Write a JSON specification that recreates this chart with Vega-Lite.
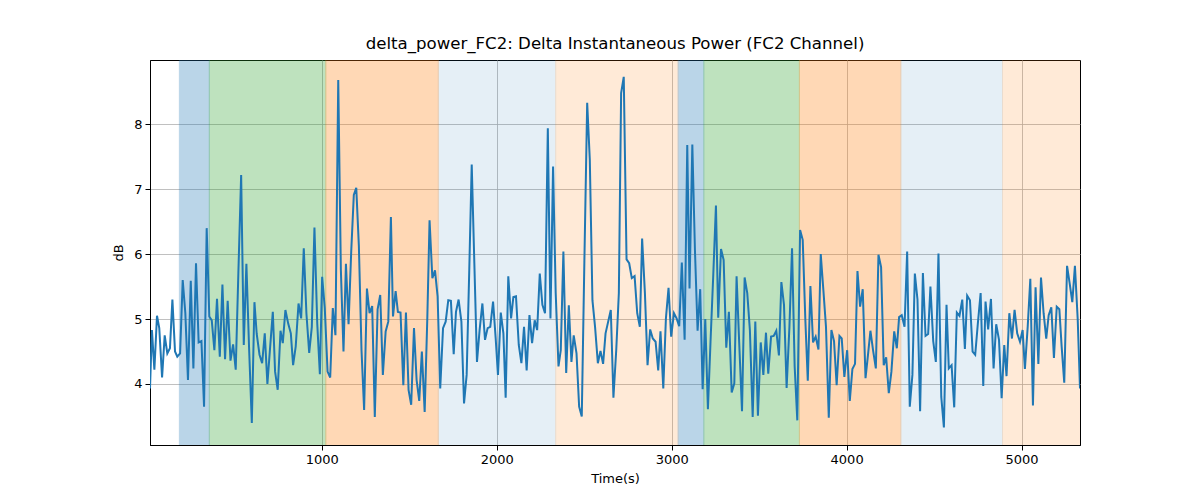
{
"$schema":"https://vega.github.io/schema/vega-lite/v6.json",
"width":930,"height":385,
"autosize":{"type":"none"},
"padding":{"left":150,"top":60,"right":120,"bottom":55},
"background":"white",
"title":{"text":"delta_power_FC2: Delta Instantaneous Power (FC2 Channel)","font":"DejaVu Sans","fontSize":16.6,"fontWeight":"normal","color":"black","offset":7},
"config":{"view":{"stroke":"black","strokeWidth":1},
"axis":{"grid":true,"gridColor":"#b0b0b0","gridWidth":0.8,"domainColor":"black","tickColor":"black","tickSize":5,"labelFont":"DejaVu Sans","labelFontSize":13,"labelColor":"black","titleFont":"DejaVu Sans","titleFontSize":13,"titleFontWeight":"normal","titleColor":"black"}},
"datasets":{
"bands":[
{"start":186,"end":357,"kind":"A"},
{"start":357,"end":1023,"kind":"B"},
{"start":1023,"end":1666,"kind":"C"},
{"start":1666,"end":2337,"kind":"D"},
{"start":2337,"end":3037,"kind":"E"},
{"start":3037,"end":3184,"kind":"A"},
{"start":3184,"end":3730,"kind":"B"},
{"start":3730,"end":4310,"kind":"C"},
{"start":4310,"end":4891,"kind":"D"},
{"start":4891,"end":5334,"kind":"E"}
],
"series":[
{"t":18,"v":3.93},{"t":29,"v":4.83},{"t":43,"v":4.22},{"t":58,"v":5.05},{"t":71,"v":4.86},{"t":87,"v":4.10},{"t":102,"v":4.75},{"t":117,"v":4.47},{"t":132,"v":4.55},{"t":146,"v":5.30},{"t":161,"v":4.50},{"t":174,"v":4.42},{"t":190,"v":4.47},{"t":205,"v":5.60},{"t":220,"v":5.09},{"t":235,"v":4.06},{"t":251,"v":5.59},{"t":266,"v":4.24},{"t":281,"v":5.86},{"t":296,"v":4.64},{"t":312,"v":4.66},{"t":327,"v":3.65},{"t":342,"v":6.40},{"t":357,"v":5.04},{"t":371,"v":4.98},{"t":386,"v":4.52},{"t":401,"v":5.31},{"t":417,"v":4.42},{"t":432,"v":5.53},{"t":447,"v":4.38},{"t":462,"v":5.28},{"t":478,"v":4.36},{"t":493,"v":4.61},{"t":508,"v":4.22},{"t":523,"v":5.7},{"t":539,"v":7.22},{"t":554,"v":4.60},{"t":569,"v":5.85},{"t":584,"v":4.58},{"t":600,"v":3.40},{"t":615,"v":5.26},{"t":628,"v":4.77},{"t":644,"v":4.45},{"t":659,"v":4.32},{"t":674,"v":4.78},{"t":689,"v":4.0},
{"t":705,"v":4.58},{"t":720,"v":5.11},{"t":733,"v":4.19},{"t":748,"v":3.91},{"t":764,"v":4.82},{"t":777,"v":4.63},{"t":792,"v":5.14},{"t":808,"v":4.93},{"t":823,"v":4.78},{"t":836,"v":4.29},{"t":851,"v":4.58},{"t":867,"v":5.24},{"t":882,"v":5.01},{"t":897,"v":6.09},{"t":912,"v":5.09},{"t":928,"v":4.48},{"t":943,"v":4.88},{"t":958,"v":6.41},{"t":974,"v":4.93},{"t":989,"v":4.15},{"t":1002,"v":5.65},{"t":1017,"v":5.17},{"t":1033,"v":4.19},{"t":1048,"v":4.10},{"t":1063,"v":5.17},{"t":1078,"v":4.75},{"t":1094,"v":8.68},{"t":1109,"v":5.76},{"t":1124,"v":4.50},{"t":1138,"v":5.85},{"t":1153,"v":4.92},{"t":1168,"v":6.03},{"t":1183,"v":6.91},{"t":1197,"v":7.02},{"t":1212,"v":6.12},{"t":1227,"v":4.52},{"t":1242,"v":3.60},{"t":1258,"v":5.47},{"t":1273,"v":5.09},{"t":1288,"v":5.20},{"t":1303,"v":3.49},{"t":1319,"v":5.15},{"t":1334,"v":5.37},{"t":1349,"v":4.14},{"t":1365,"v":4.81},{"t":1380,"v":4.96},
{"t":1395,"v":6.57},{"t":1407,"v":5.04},{"t":1422,"v":5.43},{"t":1435,"v":5.11},{"t":1450,"v":5.10},{"t":1466,"v":3.98},{"t":1481,"v":5.10},{"t":1496,"v":3.91},{"t":1511,"v":3.68},{"t":1527,"v":4.86},{"t":1542,"v":4.06},{"t":1557,"v":3.74},{"t":1572,"v":4.50},{"t":1588,"v":3.57},{"t":1603,"v":5.0},{"t":1616,"v":6.52},{"t":1632,"v":5.63},{"t":1647,"v":5.75},{"t":1662,"v":5.35},{"t":1677,"v":3.93},{"t":1693,"v":4.86},{"t":1708,"v":4.96},{"t":1723,"v":5.29},{"t":1738,"v":5.28},{"t":1754,"v":4.46},{"t":1767,"v":5.11},{"t":1782,"v":5.30},{"t":1798,"v":4.96},{"t":1813,"v":3.70},{"t":1828,"v":4.14},{"t":1843,"v":5.76},{"t":1857,"v":7.38},{"t":1872,"v":5.86},{"t":1887,"v":4.34},{"t":1902,"v":4.83},{"t":1918,"v":5.24},{"t":1933,"v":4.68},{"t":1948,"v":4.86},{"t":1963,"v":4.88},{"t":1979,"v":5.27},{"t":1994,"v":4.70},{"t":2007,"v":4.14},{"t":2023,"v":5.10},{"t":2038,"v":4.78},{"t":2051,"v":3.79},{"t":2066,"v":5.66},
{"t":2082,"v":5.01},{"t":2095,"v":5.34},{"t":2110,"v":5.35},{"t":2126,"v":4.60},{"t":2141,"v":4.32},{"t":2156,"v":4.88},{"t":2171,"v":4.21},{"t":2187,"v":5.06},{"t":2202,"v":4.63},{"t":2217,"v":4.98},{"t":2231,"v":4.83},{"t":2246,"v":5.70},{"t":2261,"v":5.22},{"t":2276,"v":5.09},{"t":2292,"v":7.94},{"t":2307,"v":5.01},{"t":2322,"v":7.35},{"t":2337,"v":5.40},{"t":2353,"v":4.27},{"t":2366,"v":4.52},{"t":2381,"v":6.04},{"t":2397,"v":4.17},{"t":2412,"v":5.21},{"t":2427,"v":4.34},{"t":2440,"v":4.75},{"t":2456,"v":4.47},{"t":2471,"v":3.65},{"t":2486,"v":3.50},{"t":2501,"v":5.9},{"t":2517,"v":8.33},{"t":2532,"v":7.45},{"t":2547,"v":5.29},{"t":2562,"v":4.88},{"t":2578,"v":4.32},{"t":2593,"v":4.51},{"t":2608,"v":4.31},{"t":2622,"v":4.78},{"t":2637,"v":4.96},{"t":2652,"v":5.14},{"t":2667,"v":3.79},{"t":2683,"v":4.52},{"t":2698,"v":5.40},{"t":2711,"v":8.48},{"t":2726,"v":8.73},{"t":2742,"v":5.92},{"t":2757,"v":5.86},
{"t":2772,"v":5.63},{"t":2788,"v":5.66},{"t":2803,"v":5.09},{"t":2818,"v":4.88},{"t":2831,"v":6.24},{"t":2847,"v":5.40},{"t":2862,"v":4.29},{"t":2877,"v":4.84},{"t":2892,"v":4.70},{"t":2908,"v":4.65},{"t":2923,"v":4.21},{"t":2936,"v":4.81},{"t":2952,"v":3.93},{"t":2967,"v":5.01},{"t":2982,"v":5.48},{"t":2997,"v":4.73},{"t":3013,"v":5.09},{"t":3028,"v":5.01},{"t":3043,"v":4.89},{"t":3058,"v":5.87},{"t":3074,"v":4.68},{"t":3089,"v":7.68},{"t":3102,"v":5.47},{"t":3118,"v":7.69},{"t":3133,"v":6.06},{"t":3148,"v":4.82},{"t":3163,"v":5.46},{"t":3177,"v":3.92},{"t":3192,"v":5.00},{"t":3207,"v":3.61},{"t":3222,"v":4.65},{"t":3238,"v":5.70},{"t":3253,"v":6.75},{"t":3266,"v":5.02},{"t":3282,"v":6.08},{"t":3297,"v":5.91},{"t":3312,"v":4.56},{"t":3327,"v":5.11},{"t":3343,"v":3.87},{"t":3358,"v":4.01},{"t":3371,"v":5.66},{"t":3386,"v":4.63},{"t":3402,"v":3.58},{"t":3417,"v":5.64},{"t":3432,"v":5.40},
{"t":3447,"v":4.83},{"t":3463,"v":3.49},{"t":3478,"v":4.96},{"t":3493,"v":3.51},{"t":3509,"v":4.64},{"t":3524,"v":4.14},{"t":3539,"v":4.79},{"t":3552,"v":4.16},{"t":3568,"v":4.73},{"t":3583,"v":4.74},{"t":3598,"v":4.82},{"t":3613,"v":4.44},{"t":3627,"v":5.57},{"t":3642,"v":5.22},{"t":3657,"v":3.94},{"t":3673,"v":4.88},{"t":3688,"v":6.09},{"t":3703,"v":4.27},{"t":3718,"v":3.44},{"t":3734,"v":6.37},{"t":3749,"v":6.22},{"t":3764,"v":4.99},{"t":3778,"v":4.05},{"t":3793,"v":5.51},{"t":3808,"v":4.64},{"t":3823,"v":4.73},{"t":3839,"v":4.53},{"t":3852,"v":6.00},{"t":3867,"v":5.45},{"t":3882,"v":4.88},{"t":3898,"v":3.48},{"t":3913,"v":4.83},{"t":3928,"v":4.66},{"t":3943,"v":3.98},{"t":3959,"v":4.74},{"t":3972,"v":4.70},{"t":3987,"v":4.11},{"t":4003,"v":4.52},{"t":4018,"v":3.74},{"t":4033,"v":4.23},{"t":4048,"v":4.31},{"t":4062,"v":5.74},{"t":4077,"v":5.19},{"t":4092,"v":5.46},{"t":4108,"v":4.09},{"t":4123,"v":4.47},
{"t":4136,"v":4.82},{"t":4151,"v":4.52},{"t":4167,"v":4.24},{"t":4182,"v":5.99},{"t":4197,"v":5.80},{"t":4212,"v":4.29},{"t":4226,"v":4.41},{"t":4241,"v":3.86},{"t":4256,"v":4.19},{"t":4272,"v":4.81},{"t":4287,"v":4.55},{"t":4300,"v":5.03},{"t":4315,"v":5.06},{"t":4331,"v":4.88},{"t":4346,"v":6.04},{"t":4361,"v":3.65},{"t":4376,"v":4.14},{"t":4390,"v":5.70},{"t":4405,"v":5.30},{"t":4420,"v":3.58},{"t":4436,"v":5.71},{"t":4451,"v":4.74},{"t":4466,"v":4.77},{"t":4479,"v":5.50},{"t":4495,"v":4.66},{"t":4510,"v":4.34},{"t":4525,"v":6.01},{"t":4541,"v":3.80},{"t":4556,"v":3.33},{"t":4571,"v":5.22},{"t":4584,"v":4.24},{"t":4600,"v":4.29},{"t":4615,"v":3.64},{"t":4630,"v":5.10},{"t":4645,"v":5.05},{"t":4661,"v":5.30},{"t":4676,"v":4.54},{"t":4689,"v":5.36},{"t":4705,"v":5.29},{"t":4720,"v":4.50},{"t":4735,"v":4.45},{"t":4750,"v":4.93},{"t":4766,"v":5.40},{"t":4781,"v":3.97},{"t":4794,"v":5.27},
{"t":4809,"v":4.84},{"t":4825,"v":5.31},{"t":4840,"v":4.24},{"t":4855,"v":4.92},{"t":4871,"v":4.68},{"t":4886,"v":3.78},{"t":4901,"v":4.60},{"t":4914,"v":4.12},{"t":4930,"v":5.09},{"t":4945,"v":4.70},{"t":4960,"v":5.14},{"t":4975,"v":4.78},{"t":4991,"v":4.65},{"t":5006,"v":4.83},{"t":5019,"v":4.23},{"t":5035,"v":4.88},{"t":5050,"v":5.62},{"t":5065,"v":3.67},{"t":5080,"v":5.49},{"t":5096,"v":4.31},{"t":5111,"v":5.64},{"t":5126,"v":5.09},{"t":5141,"v":4.70},{"t":5155,"v":5.06},{"t":5170,"v":5.18},{"t":5185,"v":4.40},{"t":5201,"v":5.19},{"t":5216,"v":5.15},{"t":5229,"v":4.58},{"t":5244,"v":4.02},{"t":5260,"v":5.82},{"t":5275,"v":5.55},{"t":5290,"v":5.26},{"t":5305,"v":5.82},{"t":5321,"v":4.99},{"t":5334,"v":3.93}
]},
"layer":[
{"data":{"name":"bands"},
"mark":{"type":"rect","strokeWidth":1,"clip":true},
"encoding":{
"x":{"field":"start","type":"quantitative","scale":{"domain":[18,5334],"nice":false,"zero":false},"axis":{"title":"Time(s)","values":[1000,2000,3000,4000,5000],"format":"d","labelPadding":3,"titlePadding":6}},
"x2":{"field":"end"},
"fill":{"field":"kind","type":"nominal","scale":{"domain":["A","B","C","D","E"],"range":["#1f77b4","#2ca02c","#ff7f0e","#1f77b4","#ff7f0e"]},"legend":null},
"stroke":{"field":"kind","type":"nominal","scale":{"domain":["A","B","C","D","E"],"range":["#1f77b4","#2ca02c","#ff7f0e","#1f77b4","#ff7f0e"]},"legend":null},
"opacity":{"field":"kind","type":"ordinal","scale":{"type":"ordinal","domain":["A","B","C","D","E"],"range":[0.3,0.3,0.3,0.11,0.16]},"legend":null}
}},
{"data":{"name":"series"},
"mark":{"type":"line","color":"#1f77b4","strokeWidth":2,"clip":true},
"encoding":{
"x":{"field":"t","type":"quantitative"},
"y":{"field":"v","type":"quantitative","scale":{"domain":[3.06,8.99],"nice":false,"zero":false},"axis":{"title":"dB","values":[4,5,6,7,8],"labelPadding":3,"titlePadding":8}}
}}
]
}
